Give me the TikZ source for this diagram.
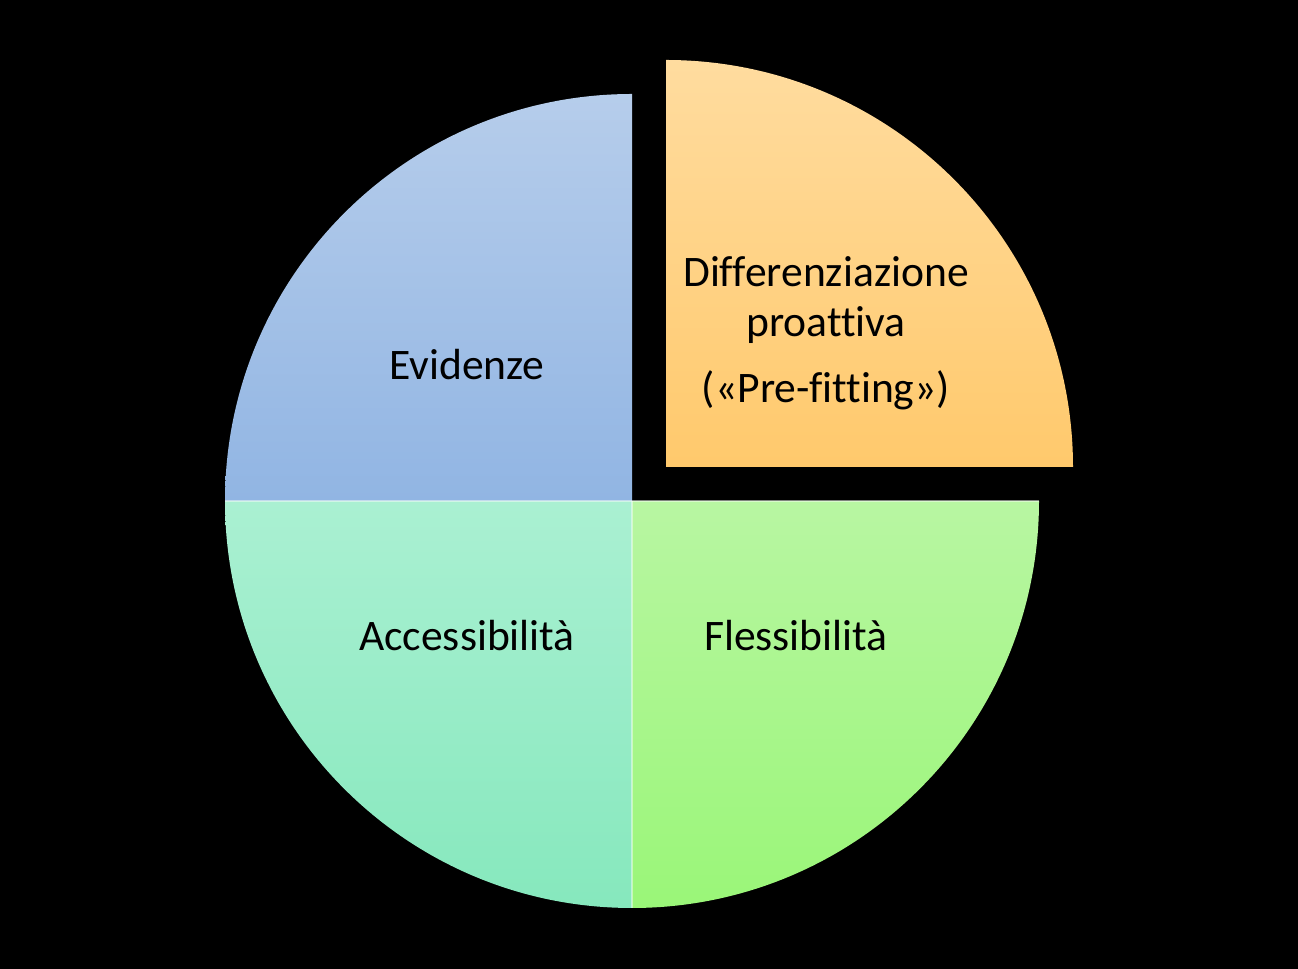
\documentclass[tikz,border=0pt]{standalone}
\usepackage{fontspec}
\setmainfont[Ligatures=NoCommon]{Carlito}
\definecolor{bluetop}{HTML}{B6CDEB}
\definecolor{bluebot}{HTML}{91B5E3}
\definecolor{orgtop}{HTML}{FFDC9F}
\definecolor{orgbot}{HTML}{FFC96C}
\definecolor{mintop}{HTML}{AAF0D2}
\definecolor{minbot}{HTML}{86E8BD}
\definecolor{grntop}{HTML}{B8F6A2}
\definecolor{grnbot}{HTML}{9AF678}
\tikzset{
  lbl/.style={font=\fontsize{24.8}{28.4}\selectfont, text=black, align=center, inner sep=0pt},
  sep/.style={draw=white, draw opacity=0.45, line width=0.7pt}
}
\begin{document}
\begin{tikzpicture}[x=0.02cm,y=0.02cm]
\fill[black] (0,0) rectangle (1298,969);
\useasboundingbox (0,0) rectangle (1298,969);
\coordinate (c) at (632,468);
\coordinate (ce) at (666,502);
% top-left quadrant
\shade[top color=bluetop, bottom color=bluebot] (c) -- ++(-407,0) arc[start angle=180,end angle=90,radius=407] -- cycle;
% bottom-left quadrant
\shade[top color=mintop, bottom color=minbot] (c) -- ++(0,-407) arc[start angle=270,end angle=180,radius=407] -- cycle;
% bottom-right quadrant
\shade[top color=grntop, bottom color=grnbot] (c) -- ++(407,0) arc[start angle=0,end angle=-90,radius=407] -- cycle;
% exploded top-right quadrant
\shade[top color=orgtop, bottom color=orgbot] (ce) -- ++(0,407) arc[start angle=90,end angle=0,radius=407] -- cycle;
% separators
\coordinate (cl) at (225,468);
\coordinate (cb) at (632,61);
\coordinate (cr) at (1039,468);
\draw[sep] (cl) -- (c);
\draw[sep] (c) -- (cb);
\draw[sep] (c) -- (cr);
% labels
\node[lbl] (ev) at (467,604) {Evidenze};
\node[lbl] (dp) at (826,636) {Differenziazione\\proattiva\\[9pt](«Pre-fitting»)};
\node[lbl] (ac) at (467,333) {Accessibilità};
\node[lbl] (fl) at (796,333) {Flessibilità};
\end{tikzpicture}
\end{document}
